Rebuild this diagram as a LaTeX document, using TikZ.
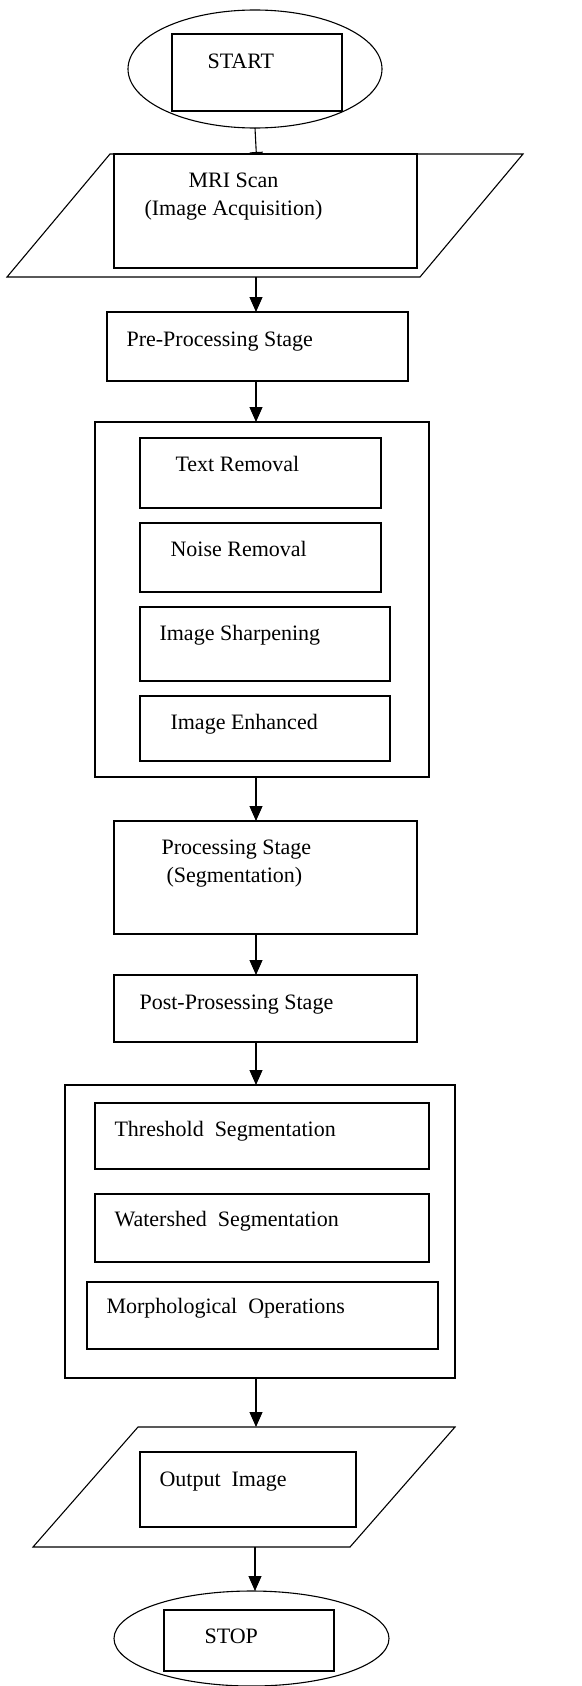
\documentclass[tikz,border=0pt]{standalone}
\usepackage{fontspec}
\setmainfont{Liberation Serif}
\usetikzlibrary{arrows.meta,shapes.geometric}

\begin{document}
\begin{tikzpicture}[x=1pt, y=-1pt, line width=1.1pt, font=\fontsize{22}{26}\selectfont]
\tikzstyle{box}=[draw, fill=white, inner sep=0pt, outer sep=0pt]
\tikzstyle{term}=[draw, ellipse, fill=white, inner sep=0pt, outer sep=0pt]
\tikzstyle{frame}=[inner sep=0pt, outer sep=0pt]
\tikzstyle{txt}=[anchor=base west, inner sep=0pt]
\tikzstyle{arr}=[-{Triangle[length=15pt, width=13pt]}]

\coordinate (ax) at (256,0);

% start / input
\node[term, minimum width=254pt, minimum height=118pt] (startE) at (255,69) {};
\node[box, minimum width=170pt, minimum height=77pt] (startB) at (257,72.5) {};
\node[txt] (startT) at (207,68) {START};
\coordinate (mriTop) at (257,167);
\draw[arr] (startE.south) -- (mriTop);

\node[frame, minimum width=516pt, minimum height=123pt] (mriP) at (265,215.5) {};
\draw[fill=white] ([xshift=103pt]mriP.north west) -- (mriP.north east)
  -- ([xshift=-103pt]mriP.south east) -- (mriP.south west) -- cycle;
\node[box, minimum width=303pt, minimum height=114pt] (mriB) at (265.5,211) {};
\node[txt] (mriT1) at (188,187) {MRI Scan};
\node[txt] (mriT2) at (144,215) {(Image Acquisition)};

\node[box, minimum width=301pt, minimum height=69pt] (pre) at (257.5,346.5) {};
\node[txt] (preT) at (126,346) {Pre-Processing Stage};

% pre-processing steps
\node[box, minimum width=334pt, minimum height=355pt] (prebox) at (262,599.5) {};
\node[box, minimum width=241pt, minimum height=70pt] (txtrem) at (260.5,473) {};
\node[txt] (txtremT) at (175,471) {Text Removal};
\node[box, minimum width=241pt, minimum height=69pt] (noise) at (260.5,557.5) {};
\node[txt] (noiseT) at (170,556) {Noise Removal};
\node[box, minimum width=250pt, minimum height=74pt] (sharp) at (265,644) {};
\node[txt] (sharpT) at (159,640) {Image Sharpening};
\node[box, minimum width=250pt, minimum height=65pt] (enh) at (265,728.5) {};
\node[txt] (enhT) at (170,729) {Image Enhanced};

\node[box, minimum width=303pt, minimum height=113pt] (proc) at (265.5,877.5) {};
\node[txt] (procT1) at (161,854) {Processing Stage};
\node[txt] (procT2) at (166,882) {(Segmentation)};

\node[box, minimum width=303pt, minimum height=67pt] (post) at (265.5,1008.5) {};
\node[txt] (postT) at (139,1009) {Post-Prosessing Stage};

% post-processing steps
\node[box, minimum width=390pt, minimum height=293pt] (postbox) at (260,1231.5) {};
\node[box, minimum width=334pt, minimum height=66pt] (thr) at (262,1136) {};
\node[txt] (thrT) at (114,1136) {Threshold~~Segmentation};
\node[box, minimum width=334pt, minimum height=68pt] (wat) at (262,1228) {};
\node[txt] (watT) at (114,1226) {Watershed~~Segmentation};
\node[box, minimum width=351pt, minimum height=67pt] (morph) at (262.5,1315.5) {};
\node[txt] (morphT) at (106,1313) {Morphological~~Operations};

% output / stop
\node[frame, minimum width=422pt, minimum height=120pt] (outP) at (244,1487) {};
\draw[fill=white] ([xshift=105pt]outP.north west) -- (outP.north east)
  -- ([xshift=-105pt]outP.south east) -- (outP.south west) -- cycle;
\node[box, minimum width=216pt, minimum height=75pt] (outB) at (248,1489.5) {};
\node[txt] (outT) at (159,1486) {Output~~Image};

\node[term, minimum width=275pt, minimum height=95pt] (stopE) at (251.5,1638.5) {};
\node[box, minimum width=170pt, minimum height=61pt] (stopB) at (249,1640.5) {};
\node[txt] (stopT) at (204,1643) {STOP};

\draw[arr] (mriP.south -| ax) -- (pre.north -| ax);
\draw[arr] (pre.south -| ax) -- (prebox.north -| ax);
\draw[arr] (prebox.south -| ax) -- (proc.north -| ax);
\draw[arr] (proc.south -| ax) -- (post.north -| ax);
\draw[arr] (post.south -| ax) -- (postbox.north -| ax);
\draw[arr] (postbox.south -| ax) -- (outP.north -| ax);
\draw[arr] ([xshift=-1pt]outP.south -| ax) -- ([xshift=-1pt]stopE.north -| ax);

\pgfresetboundingbox
\useasboundingbox (0,0) rectangle (581,1686);
\end{tikzpicture}
\end{document}
